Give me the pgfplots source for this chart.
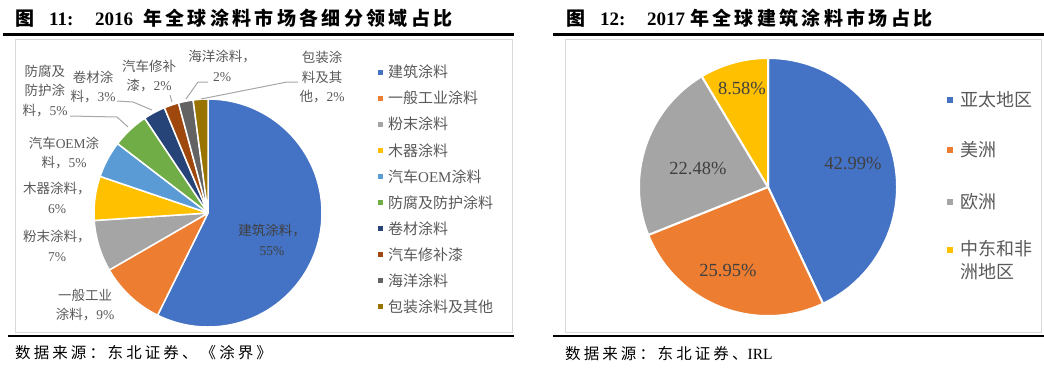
\documentclass[border=0pt]{standalone}
\usepackage{pgfplots}
\usepackage{pgfplotstable}
\pgfplotsset{compat=1.18}
\usepackage{fontspec}
\setmainfont{Liberation Serif}
\newfontfamily\cjk{Noto Sans CJK SC}

\definecolor{c1}{HTML}{4472C4}
\definecolor{c2}{HTML}{ED7D31}
\definecolor{c3}{HTML}{A5A5A5}
\definecolor{c4}{HTML}{FFC000}
\definecolor{c5}{HTML}{5B9BD5}
\definecolor{c6}{HTML}{70AD47}
\definecolor{c7}{HTML}{264478}
\definecolor{c8}{HTML}{9E480E}
\definecolor{c9}{HTML}{636363}
\definecolor{c10}{HTML}{997300}
\definecolor{labc}{HTML}{595959}
\definecolor{inlab}{HTML}{404040}
\definecolor{boxc}{HTML}{D9D9D9}
\definecolor{leadc}{HTML}{A6A6A6}

% 2016 global coatings market by segment (%)
\pgfplotstableread[col sep=comma]{
value,color
55,c1
9,c2
7,c3
6,c4
5,c5
5,c6
3,c7
2,c8
2,c9
2,c10
}\dataA

% 2017 global architectural coatings by region (%)
\pgfplotstableread[col sep=comma]{
value,color
42.99,c1
25.95,c2
22.48,c3
8.58,c4
}\dataB

% build the wedge drawing commands from a table into macro #4
\newcommand\buildpie[4]{%
  \pgfplotstablegetrowsof{#1}%
  \pgfmathtruncatemacro\pienrows{\pgfplotsretval-1}%
  \def\pietotal{0}%
  \pgfplotsforeachungrouped \pii in {0,...,\pienrows}{%
    \pgfplotstablegetelem{\pii}{value}\of{#1}%
    \pgfmathsetmacro\pietotal{\pietotal+\pgfplotsretval}}%
  \def\piecum{0}%
  \gdef#4{}%
  \pgfplotsforeachungrouped \pii in {0,...,\pienrows}{%
    \pgfplotstablegetelem{\pii}{value}\of{#1}\let\pieval\pgfplotsretval
    \pgfplotstablegetelem{\pii}{color}\of{#1}\let\piecol\pgfplotsretval
    \pgfmathsetmacro\pieA{90-360*(\piecum/\pietotal)}%
    \pgfmathsetmacro\piecum{\piecum+\pieval}%
    \pgfmathsetmacro\pieB{90-360*(\piecum/\pietotal)}%
    \pgfmathsetmacro\piex{#2*cos(\pieA)}%
    \pgfmathsetmacro\piey{#2*sin(\pieA)}%
    \xdef#4{\unexpanded\expandafter{#4}\noexpand\filldraw[fill=\piecol,draw=white,line width=#3,line join=round] (axis cs:0,0) -- (axis cs:\piex,\piey) arc[start angle=\pieA,end angle=\pieB,radius=#2pt] -- cycle;}%
  }}
\buildpie{\dataA}{114}{1.5pt}\pieLeft
\buildpie{\dataB}{129}{2pt}\pieRight

\begin{document}
\begin{tikzpicture}[x=1pt,y=-1pt,
  lab/.style={font=\cjk\fontsize{13.5}{19.5}\selectfont, text=labc, align=center, inner sep=0pt},
  leg/.style={font=\cjk\fontsize{15}{15}\selectfont, text=labc, anchor=west, inner sep=0pt},
  legR/.style={font=\cjk\fontsize{18}{23}\selectfont, text=labc, anchor=west, inner sep=0pt, align=left},
  ttl/.style={font=\cjk\bfseries\fontsize{19}{19}\selectfont\addfontfeature{LetterSpace=17.5}, anchor=base west, inner sep=0pt},
  ttln/.style={font=\bfseries\fontsize{19}{19}\selectfont, anchor=base west, inner sep=0pt},
  src/.style={font=\cjk\fontsize{15.5}{15.5}\selectfont\addfontfeature{LetterSpace=20}, anchor=base west, inner sep=0pt},
  pl/.style={font=\fontsize{18.5}{18.5}\selectfont, text=inlab, inner sep=0pt}]
\path[use as bounding box] (0,0) rectangle (1044,368);

% ---------- frames ----------
\draw[boxc, line width=1pt] (15,39.5) rectangle (512,332);
\draw[boxc, line width=1pt] (565,39.5) rectangle (1041,332);
\draw[line width=2.5pt] (3,34.5) -- (514,34.5);
\draw[line width=2.5pt] (553,34.5) -- (1044,34.5);
\draw[line width=2pt] (8,335.5) -- (514,335.5);
\draw[line width=2pt] (553,335.5) -- (1044,335.5);

% ---------- titles ----------
\node[ttl] at (15,25) {图};
\node[ttln] at (49,25) {11:};
\node[ttln] at (95,25) {2016};
\node[ttl] at (143,25) {年全球涂料市场各细分领域占比};
\node[ttl] at (566,25) {图};
\node[ttln] at (600,25) {12:};
\node[ttln] at (647,25) {2017};
\node[ttl] at (690,25) {年全球建筑涂料市场占比};

% ---------- sources ----------
\node[src] at (15,358) {数据来源：\,东北证券、《涂界》};
\node[src] at (565,359) {数据来源：\,东北证券、{\rmfamily\addfontfeature{LetterSpace=0} IRL}};

% ---------- left pie ----------
\begin{axis}[at={(208pt,-213pt)}, anchor=origin, hide axis, clip=false,
  x=1pt, y=1pt, xmin=-140, xmax=140, ymin=-140, ymax=140]
\addplot[draw=none, mark=none] coordinates {(0,0)};
\pieLeft
\end{axis}

% ---------- right pie ----------
\begin{axis}[at={(768pt,-187pt)}, anchor=origin, hide axis, clip=false,
  x=1pt, y=1pt, xmin=-140, xmax=140, ymin=-140, ymax=140]
\addplot[draw=none, mark=none] coordinates {(0,0)};
\pieRight
\end{axis}

% left pie labels
\node[lab, text=inlab] at (272,240) {建筑涂料，\\{\rmfamily 55\%}};
\node[lab] at (85,305) {一般工业\\涂料，{\rmfamily 9\%}};
\node[lab] at (57,246) {粉末涂料，\\{\rmfamily 7\%}};
\node[lab] at (57,198) {木器涂料，\\{\rmfamily 6\%}};
\node[lab] at (64,153) {汽车{\rmfamily OEM}涂\\料，{\rmfamily 5\%}};
\node[lab] at (45,91) {防腐及\\防护涂\\料，{\rmfamily 5\%}};
\node[lab] at (93,87) {卷材涂\\料，{\rmfamily 3\%}};
\node[lab] at (149,76) {汽车修补\\漆，{\rmfamily 2\%}};
\node[lab] at (222,66) {海洋涂料，\\{\rmfamily 2\%}};
\node[lab] at (322,77) {包装涂\\料及其\\他，{\rmfamily 2\%}};

% leader lines
\draw[leadc, line width=1pt] (70,116) -- (117,117) -- (128,127);
\draw[leadc, line width=1pt] (117,101) -- (133,102) -- (152,110);
\draw[leadc, line width=1pt] (170,95) -- (172,102);
\draw[leadc, line width=1pt] (208,82) -- (198,82) -- (186,99);
\draw[leadc, line width=1pt] (298,82) -- (287,82) -- (201,99);

% left legend
\foreach \i/\t in {1/建筑涂料,2/一般工业涂料,3/粉末涂料,4/木器涂料,5/汽车{\rmfamily OEM}涂料,6/防腐及防护涂料,7/卷材涂料,8/汽车修补漆,9/海洋涂料,10/包装涂料及其他}{
  \pgfmathsetmacro\yy{72+26.1*(\i-1)}
  \fill[c\i] (378,\yy-2.5) rectangle (383,\yy+2.5);
  \node[leg] at (388,\yy) {\t};
}

% right pie labels
\node[pl] at (853,163) {42.99\%};
\node[pl] at (728,270) {25.95\%};
\node[pl] at (698,168) {22.48\%};
\node[pl] at (742,88) {8.58\%};

% right legend
\fill[c1] (947,97) rectangle (953,103);
\node[legR] at (960,100) {亚太地区};
\fill[c2] (947,147) rectangle (953,153);
\node[legR] at (960,150) {美洲};
\fill[c3] (947,199) rectangle (953,205);
\node[legR] at (960,202) {欧洲};
\fill[c4] (947,247) rectangle (953,253);
\node[legR, anchor=north west] at (960,240) {中东和非\\洲地区};
\end{tikzpicture}
\end{document}
